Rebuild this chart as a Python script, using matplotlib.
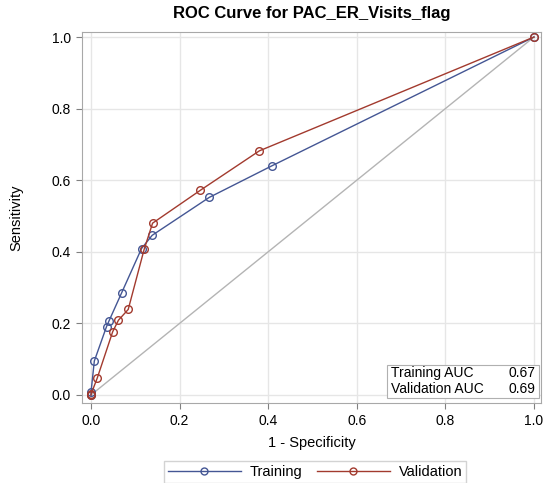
import matplotlib.pyplot as plt
from matplotlib.lines import Line2D
from matplotlib.patches import Rectangle

plt.rcParams['font.family'] = ['Liberation Sans', 'DejaVu Sans']

# ROC points
train_fpr = [0.0, 0.0, 0.0075, 0.035, 0.041, 0.069, 0.114, 0.138, 0.267, 0.408, 1.0]
train_tpr = [0.0, 0.008, 0.095, 0.191, 0.208, 0.285, 0.409, 0.446, 0.552, 0.640, 1.0]
valid_fpr = [0.0, 0.0, 0.014, 0.049, 0.062, 0.084, 0.120, 0.139, 0.247, 0.380, 1.0]
valid_tpr = [0.0, 0.002, 0.047, 0.177, 0.209, 0.239, 0.407, 0.480, 0.572, 0.682, 1.0]
auc_labels = ['Training AUC', 'Validation AUC']
auc_values = [0.67, 0.69]
ticks = [0.0, 0.2, 0.4, 0.6, 0.8, 1.0]

blue = '#445694'
red = '#A23A2E'

fig = plt.figure(figsize=(5.45, 4.83), dpi=100)
ax = fig.add_axes([0.1505, 0.1663, 0.8422, 0.7674])

ax.plot([0, 1], [0, 1], color='#b4b4b4', lw=1, zorder=1)
ax.plot(train_fpr, train_tpr, color=blue, lw=1, marker='o', ms=5.5,
        mfc='none', mec=blue, mew=1, zorder=3)
ax.plot(valid_fpr, valid_tpr, color=red, lw=1, marker='o', ms=5.5,
        mfc='none', mec=red, mew=1, zorder=3)

ax.set_xlim(-0.0203, 1.016)
ax.set_ylim(-0.0215, 1.014)
ax.set_xticks(ticks)
ax.set_yticks(ticks)
ax.set_xticklabels([f'{t:.1f}' for t in ticks])
ax.set_yticklabels([f'{t:.1f}' for t in ticks])
ax.grid(True, color='#e6e6e6', lw=1)
ax.set_axisbelow(True)
ax.tick_params(labelsize=10, color='#808080', length=4, pad=4)
for s in ax.spines.values():
    s.set_color('#a8a8a8')

ax.set_title('ROC Curve for PAC_ER_Visits_flag', fontsize=12,
             fontweight='bold', pad=10)
ax.set_xlabel('1 - Specificity', fontsize=10.5, labelpad=6)
ax.set_ylabel('Sensitivity', fontsize=10.5, labelpad=20)

# AUC inset box
ax.add_patch(Rectangle((0.664, 0.0127), 0.332, 0.089, transform=ax.transAxes,
                       fc='white', ec='#b0b0b0', lw=0.8, zorder=5))
for i, (lab, val) in enumerate(zip(auc_labels, auc_values)):
    yy = 0.079 - i * 0.041
    ax.text(0.673, yy, lab, transform=ax.transAxes, fontsize=10,
            va='center', ha='left', zorder=6)
    ax.text(0.987, yy, f'{val:.2f}', transform=ax.transAxes, fontsize=10,
            va='center', ha='right', zorder=6)

handles = [
    Line2D([0], [0], color=blue, lw=1, marker='o', ms=5, mfc='none', mec=blue),
    Line2D([0], [0], color=red, lw=1, marker='o', ms=5, mfc='none', mec=red),
]
fig.legend(handles, ['Training', 'Validation'], loc='center',
           bbox_to_anchor=(0.578, 0.023), ncol=2, fontsize=10.5, frameon=True,
           fancybox=False, edgecolor='#c8c8c8', handlelength=5.0,
           borderpad=0.25, columnspacing=1.0, handletextpad=0.6)

fig.savefig('out.png', dpi=100)
